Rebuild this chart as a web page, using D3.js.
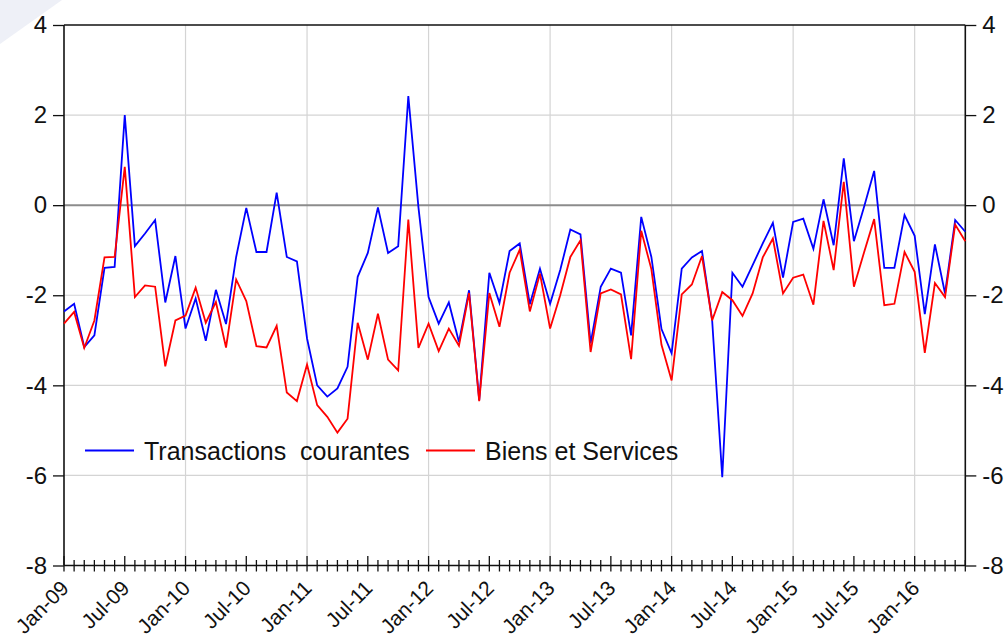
<!DOCTYPE html>
<html><head><meta charset="utf-8">
<script src="https://cdn.jsdelivr.net/npm/d3@7"></script>
<style>body{margin:0;background:#fff} svg text{font-family:"Liberation Sans",Arial,sans-serif;fill:#111}</style>
</head><body><svg id="c" width="1007" height="642"></svg>
<script>
// Monthly data, Jan-2009 .. Jun-2016
const categories = d3.timeMonth.range(new Date(2009,0,1), new Date(2016,6,1)).map(d3.timeFormat("%b-%y"));
const transactionsCourantes = [
 -2.36,-2.19,-3.15,-2.89,-1.39,-1.37, 2.00,-0.91,-0.63,-0.33,-2.16,-1.13,
 -2.74,-2.07,-3.01,-1.88,-2.64,-1.15,-0.06,-1.04,-1.04, 0.28,-1.15,-1.25,
 -2.96,-4.00,-4.25,-4.07,-3.59,-1.59,-1.06,-0.05,-1.06,-0.91, 2.42,-0.05,
 -2.04,-2.63,-2.16,-3.04,-1.89,-4.33,-1.50,-2.17,-1.02,-0.85,-2.20,-1.41,
 -2.19,-1.44,-0.54,-0.65,-3.07,-1.81,-1.41,-1.50,-2.89,-0.26,-1.15,-2.75,
 -3.29,-1.41,-1.16,-1.02,-2.55,-6.04,-1.50,-1.81,-1.33,-0.85,-0.39,-1.61,
 -0.37,-0.30,-0.97, 0.13,-0.89, 1.04,-0.80,-0.04, 0.76,-1.39,-1.39,-0.22,
 -0.68,-2.42,-0.87,-1.96,-0.33,-0.59];
const biensEtServices = [
 -2.63,-2.37,-3.17,-2.56,-1.16,-1.15, 0.85,-2.04,-1.78,-1.81,-3.58,-2.56,
 -2.45,-1.83,-2.61,-2.15,-3.16,-1.65,-2.13,-3.13,-3.16,-2.68,-4.16,-4.35,
 -3.54,-4.44,-4.70,-5.05,-4.74,-2.61,-3.43,-2.41,-3.43,-3.67,-0.32,-3.17,
 -2.63,-3.24,-2.74,-3.12,-1.95,-4.35,-1.95,-2.70,-1.50,-0.99,-2.36,-1.52,
 -2.74,-2.00,-1.15,-0.78,-3.26,-1.96,-1.87,-1.98,-3.42,-0.57,-1.42,-3.10,
 -3.89,-1.98,-1.76,-1.13,-2.56,-1.93,-2.11,-2.46,-1.96,-1.16,-0.74,-1.96,
 -1.61,-1.54,-2.21,-0.35,-1.44, 0.52,-1.81,-1.05,-0.31,-2.22,-2.19,-1.04,
 -1.48,-3.28,-1.73,-2.04,-0.43,-0.80];
const yTicks = [4,2,0,-2,-4,-6,-8];
const xTickLabels = ["Jan-09","Jul-09","Jan-10","Jul-10","Jan-11","Jul-11","Jan-12","Jul-12","Jan-13","Jul-13","Jan-14","Jul-14","Jan-15","Jul-15","Jan-16"];
const seriesNames = ["Transactions  courantes","Biens et Services"];
const seriesColors = ["#0000ff","#ff0000"];

const svg = d3.select("#c");
const L=64, R=965.3, T=25, B=565.5;
const x = d3.scaleLinear().domain([0, categories.length-1]).range([L,R]);
const y = d3.scaleLinear().domain([-8,4]).range([B,T]);

// faint corner artifact
svg.append("polygon").attr("points","0,0 62,0 0,44").attr("fill","#eef0f7");

// grid
const janIdx = categories.map((c,i)=>c.startsWith("Jan")?i:-1).filter(i=>i>0);
svg.append("g").selectAll("line").data(janIdx).join("line")
  .attr("x1",d=>x(d)).attr("x2",d=>x(d)).attr("y1",T).attr("y2",B)
  .attr("stroke","#d4d4d4").attr("stroke-width",1.2);
svg.append("g").selectAll("line").data(yTicks.filter(v=>v!==4&&v!==-8&&v!==0)).join("line")
  .attr("x1",L).attr("x2",R).attr("y1",d=>y(d)).attr("y2",d=>y(d))
  .attr("stroke","#d4d4d4").attr("stroke-width",1.2);
svg.append("line").attr("x1",L).attr("x2",R).attr("y1",y(0)).attr("y2",y(0))
  .attr("stroke","#8c8c8c").attr("stroke-width",2);

// frame
svg.append("line").attr("x1",L).attr("x2",R).attr("y1",T).attr("y2",T).attr("stroke","#111").attr("stroke-width",1.6);
svg.append("line").attr("x1",L).attr("x2",R).attr("y1",B).attr("y2",B).attr("stroke","#111").attr("stroke-width",1.6);
svg.append("line").attr("x1",L).attr("x2",L).attr("y1",T).attr("y2",B).attr("stroke","#111").attr("stroke-width",1.6);
svg.append("line").attr("x1",R).attr("x2",R).attr("y1",T).attr("y2",B).attr("stroke","#111").attr("stroke-width",1.6);

// y axes
const fmt = d => String(d);
const yl = svg.append("g").attr("transform",`translate(${L},0)`)
  .call(d3.axisLeft(y).tickValues(yTicks).tickSize(11).tickPadding(6).tickFormat(fmt));
const yr = svg.append("g").attr("transform",`translate(${R},0)`)
  .call(d3.axisRight(y).tickValues(yTicks).tickSize(11).tickPadding(6).tickFormat(fmt));
[yl,yr].forEach(g=>{g.select(".domain").remove();
  g.selectAll(".tick line").attr("stroke","#111").attr("stroke-width",1.3);
  g.selectAll("text").attr("font-size",24).attr("fill","#111").attr("font-family","Liberation Sans, Arial, sans-serif");});

// x ticks
svg.append("g").selectAll("line").data(categories.map((c,i)=>i)).join("line")
  .attr("x1",d=>x(d)).attr("x2",d=>x(d))
  .attr("y1",d=>d%6===0?B-9.5:B-5.5).attr("y2",B+6)
  .attr("stroke","#111").attr("stroke-width",1.3);
svg.append("g").selectAll("text").data(xTickLabels).join("text")
  .attr("transform",d=>`translate(${x(categories.indexOf(d))+6},${B+24}) rotate(-45)`)
  .attr("text-anchor","end").attr("font-size",21).text(d=>d);

// lines
const series = [transactionsCourantes, biensEtServices];
const line = d3.line().x((d,i)=>x(i)).y(d=>y(d));
series.forEach((s,k)=>{
  svg.append("path").datum(s).attr("d",line).attr("fill","none")
    .attr("stroke",seriesColors[k]).attr("stroke-width",1.8).attr("stroke-linejoin","miter");
});

// legend
const lg = svg.append("g");
const legX = [85, 426];
seriesNames.forEach((n,k)=>{
  lg.append("line").attr("x1",legX[k]).attr("x2",legX[k]+49).attr("y1",450.5).attr("y2",450.5)
    .attr("stroke",seriesColors[k]).attr("stroke-width",1.8);
  lg.append("text").attr("x",legX[k]+59).attr("y",450.5).attr("dy","0.36em")
    .attr("font-size",25).style("white-space","pre").text(n);
});
</script></body></html>
